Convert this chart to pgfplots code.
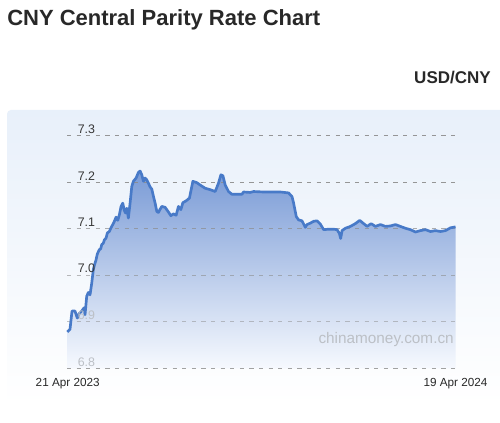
\documentclass[border=0pt]{standalone}
\usepackage{pgfplots}
\usepackage{pgfplotstable}
\pgfplotsset{compat=1.18}
\usepackage{fontspec}
\setmainfont{Liberation Sans}
\definecolor{linecol}{RGB}{72,122,200}
\definecolor{filltop}{RGB}{122,155,214}
\definecolor{fillmid}{RGB}{182,201,234}
\definecolor{fillbot}{RGB}{246,249,254}
\definecolor{paneltop}{RGB}{232,240,250}
\definecolor{gridcol}{RGB}{140,140,140}
\definecolor{tickdark}{RGB}{55,55,55}
\definecolor{ticklight}{RGB}{188,192,198}
\definecolor{titlecol}{RGB}{40,40,40}
\definecolor{wmark}{RGB}{188,192,198}

\pgfplotstableread{
x y
67.3 6.878
70 6.884
72 6.923
75 6.923
77.3 6.908
79.3 6.918
81.7 6.923
84 6.930
85 6.915
86.7 6.955
88.3 6.963
90 6.958
91.7 6.983
93.3 7.012
94.3 7.021
96 7.033
97.3 7.046
99.3 7.055
100.7 7.057
101.7 7.066
103.3 7.069
104.3 7.076
106 7.080
107.3 7.091
109.3 7.094
110.7 7.101
112.7 7.109
114.3 7.116
116 7.125
117.7 7.118
119.3 7.130
121 7.148
122.7 7.155
124 7.141
125.3 7.134
126.7 7.144
128.3 7.123
130 7.155
131.7 7.191
133.3 7.202
136 7.209
138.3 7.221
140 7.224
141.7 7.216
143.3 7.202
145 7.209
146.7 7.205
148.3 7.198
150 7.190
151.7 7.185
153.3 7.170
155 7.155
156.7 7.137
158.3 7.135
160 7.142
161.7 7.148
165 7.146
168.3 7.136
170.7 7.128
173.3 7.132
176 7.129
178.3 7.148
180.7 7.141
182.7 7.156
186 7.160
189.3 7.166
192.7 7.202
196.7 7.199
200 7.194
205 7.187
210 7.184
215 7.180
218.3 7.198
220.7 7.216
222.7 7.214
225 7.194
228.3 7.180
231.7 7.174
236.7 7.174
241.7 7.174
243.3 7.179
250 7.178
253.3 7.180
263.3 7.179
273.3 7.179
280 7.179
288.3 7.177
291.7 7.169
293.3 7.155
296 7.126
298.3 7.119
301.7 7.117
305 7.103
306.7 7.109
310 7.112
313.3 7.116
316.7 7.117
320 7.110
323.3 7.098
328.3 7.099
333.3 7.099
336.7 7.098
339 7.090
340.3 7.079
341.7 7.096
345 7.101
350 7.105
355 7.111
359.3 7.118
362.7 7.112
366.7 7.105
370.7 7.111
375 7.105
380 7.109
385 7.105
390 7.106
395 7.109
400 7.105
405 7.101
410 7.098
415 7.093
420 7.096
425 7.098
430 7.094
435 7.096
440 7.094
445 7.096
450 7.102
455 7.104
}\ratedata

\begin{document}
\begin{tikzpicture}
\begin{scope}[x=0.75pt,y=-0.75pt]
  \fill[white] (0,0) rectangle (500,423);
  \useasboundingbox (0,0) rectangle (500,423);
  \shade[top color=paneltop, bottom color=white, rounded corners=3pt] (7,110) rectangle (504,405);
  \node[anchor=base west, inner sep=0, font=\fontsize{16.5}{18}\bfseries, text=titlecol] at (7,26) {CNY Central Parity Rate Chart};
  \node[anchor=base east, inner sep=0, font=\fontsize{12.75}{14}\bfseries, text=titlecol] at (491,84) {USD/CNY};
\end{scope}
\begin{axis}[
  at={(50.25pt,-276.225pt)}, anchor=south west,
  scale only axis, width=291pt, height=174.45pt,
  xmin=67, xmax=455, ymin=6.8, ymax=7.3,
  axis lines=none, clip=false,
]
\addplot[draw=none, top color=filltop, middle color=fillmid, bottom color=fillbot] table[x=x,y=y] {\ratedata} \closedcycle;
\addplot[gridcol, opacity=0.9, line width=1pt, dash pattern=on 3.2pt off 4pt] coordinates {(67,7.3) (455,7.3)};
\addplot[gridcol, opacity=0.9, line width=1pt, dash pattern=on 3.2pt off 4pt] coordinates {(67,7.2) (455,7.2)};
\addplot[gridcol, opacity=0.7, line width=1pt, dash pattern=on 3.2pt off 4pt] coordinates {(67,7.1) (455,7.1)};
\addplot[gridcol, opacity=0.6, line width=1pt, dash pattern=on 3.2pt off 4pt] coordinates {(67,7.0) (455,7.0)};
\addplot[gridcol, opacity=0.5, line width=1pt, dash pattern=on 3.2pt off 4pt] coordinates {(67,6.9) (455,6.9)};
\addplot[gridcol, opacity=0.8, line width=1pt, dash pattern=on 3.2pt off 4pt] coordinates {(67,6.8) (455,6.8)};
\addplot[linecol, line width=2pt, line join=round] table[x=x,y=y] {\ratedata};
\end{axis}
\begin{scope}[x=0.75pt,y=-0.75pt]
  \foreach \v/\yy/\c in {7.3/135.7/tickdark, 7.2/182.3/tickdark, 7.1/229/tickdark, 7.0/275/tickdark, 6.9/321.7/ticklight, 6.8/368.3/ticklight}
    \node[anchor=base west, inner sep=0, font=\fontsize{9.3}{10}\selectfont, text=\c] at (77.5,\yy-2) {\v};
  \node[anchor=base, inner sep=0, font=\fontsize{8.8}{10}\selectfont, text=titlecol] at (67.7,386.7) {21 Apr 2023};
  \node[anchor=base, inner sep=0, font=\fontsize{8.8}{10}\selectfont, text=titlecol] at (455.5,386.7) {19 Apr 2024};
  \node[anchor=base east, inner sep=0, font=\fontsize{11.5}{13}\selectfont, text=wmark] at (454,344) {chinamoney.com.cn};
\end{scope}
\end{tikzpicture}
\end{document}
